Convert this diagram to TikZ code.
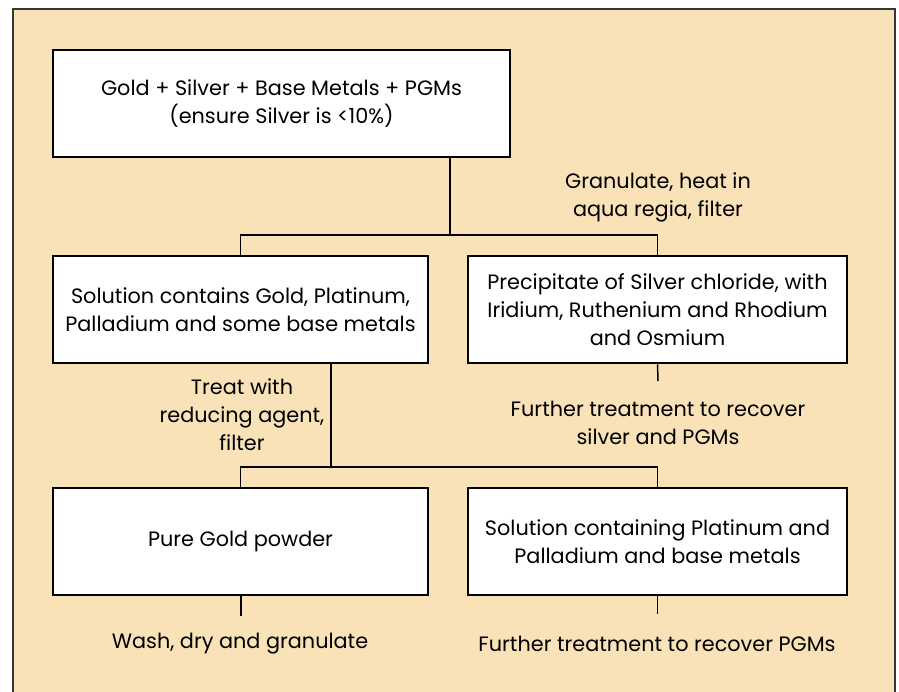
\documentclass[tikz,border=0pt]{standalone}
\usepackage{fontspec}
\setmainfont{Poppins}
\usetikzlibrary{calc}
\definecolor{sand}{RGB}{249,226,184}
\definecolor{framegray}{RGB}{55,55,55}
\tikzset{
	stepbox/.style={draw,line width=1.4pt,fill=white,minimum height=53.5pt,inner sep=0pt,align=center,font=\fontsize{10.4}{14}\selectfont},
	note/.style={align=center,inner sep=0pt,font=\fontsize{10.4}{14}\selectfont},
	link/.style={line width=0.75pt}
	}
\begin{document}
\begin{tikzpicture}[x=0.5pt,y=-0.5pt]
          \useasboundingbox (0,0) rectangle (899,691);
          \draw[framegray,fill=sand,line width=1.2pt] (13,9) rectangle (895,720);

          % boxes
          \node[stepbox,minimum width=228.5pt] (alloy) at (281.5,103.5) {Gold + Silver + Base Metals + PGMs\\(ensure Silver is <10\%)};
          \node[stepbox,minimum width=187.5pt] (solution) at (240.5,309.5) {Solution contains Gold, Platinum,\\Palladium and some base metals};
          \node[stepbox,minimum width=189.5pt] (precip) at (657.5,309.5) {Precipitate of Silver chloride, with\\Iridium, Ruthenium and Rhodium\\and Osmium};
          \node[stepbox,minimum width=187.5pt] (gold) at (240.5,541.5) {Pure Gold powder};
          \node[stepbox,minimum width=189.5pt] (pgmsol) at (657.5,541.5) {Solution containing Platinum and\\Palladium and base metals};

          % notes
          \node[note] (granulate) at (658,197) {Granulate, heat in\\aqua regia, filter};
          \node[note] (treat) at (242,415) {Treat with\\reducing agent,\\filter};
          \node[note] (furthersilver) at (658,423) {Further treatment to recover\\silver and PGMs};
          \node[note] (wash) at (240,644) {Wash, dry and granulate};
          \node[note] (furtherpgm) at (657,644) {Further treatment to recover PGMs};

          % connectors
          \coordinate (fork1) at (450,235);
          \coordinate (fork2) at (331,467);
          \coordinate (end1) at (658,381);
          \coordinate (end2) at (241,616);
          \coordinate (end3) at (657.5,614);
          \draw[link] (alloy.south -| fork1) -- (fork1);
          \draw[link] (solution.north) |- (fork1) -| (precip.north);
          \draw[link] (solution.south -| fork2) -- (fork2);
          \draw[link] (gold.north) |- (fork2) -| (pgmsol.north);
          \draw[link] (precip.south) -- (end1);
          \draw[link] (gold.south -| end2) -- (end2);
          \draw[link] (pgmsol.south) -- (end3);
        \end{tikzpicture}
\end{document}
